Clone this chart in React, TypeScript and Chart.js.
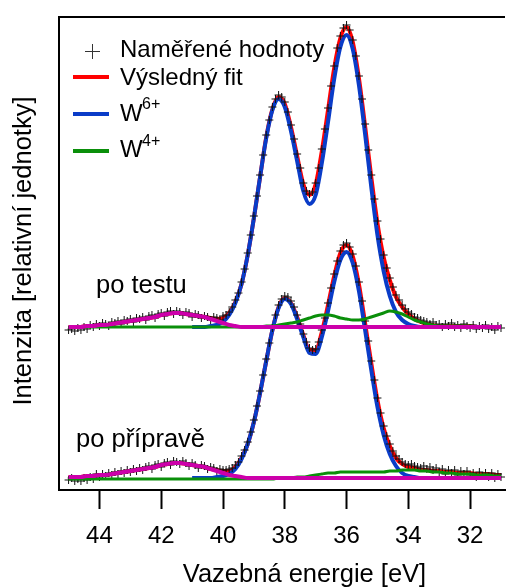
import React, { useEffect, useRef } from 'react';
import { Chart, registerables } from 'chart.js';

Chart.register(...registerables);

const FONT = '"Liberation Sans", Arial, Helvetica, sans-serif';

// x axis (binding energy, eV), reversed
const X_MIN = 30.87;
const X_MAX = 45.31;
const X_TICKS = [44, 42, 40, 38, 36, 34, 32];
// y axis (relative intensity, arbitrary units)
const Y_MIN = 0;
const Y_MAX = 474;

const X_TITLE = 'Vazebná energie [eV]';
const Y_TITLE = 'Intenzita [relativní jednotky]';
const LABEL_TOP = 'po testu';
const LABEL_BOTTOM = 'po přípravě';
const LEGEND_MEAS = 'Naměřené hodnoty';
const LEGEND_FIT = 'Výsledný fit';
const LEGEND_W6 = ['W', '6+'];
const LEGEND_W4 = ['W', '4+'];

// measured energies (0.1 eV step)
const ENERGY_MEAS = [
  45.0, 44.9, 44.8, 44.7, 44.6, 44.5, 44.4, 44.3, 44.2, 44.1,
  44.0, 43.9, 43.8, 43.7, 43.6, 43.5, 43.4, 43.3, 43.2, 43.1,
  43.0, 42.9, 42.8, 42.7, 42.6, 42.5, 42.4, 42.3, 42.2, 42.1,
  42.0, 41.9, 41.8, 41.7, 41.6, 41.5, 41.4, 41.3, 41.2, 41.1,
  41.0, 40.9, 40.8, 40.7, 40.6, 40.5, 40.4, 40.3, 40.2, 40.1,
  40.0, 39.9, 39.8, 39.7, 39.6, 39.5, 39.4, 39.3, 39.2, 39.1,
  39.0, 38.9, 38.8, 38.7, 38.6, 38.5, 38.4, 38.3, 38.2, 38.1,
  38.0, 37.9, 37.8, 37.7, 37.6, 37.5, 37.4, 37.3, 37.2, 37.1,
  37.0, 36.9, 36.8, 36.7, 36.6, 36.5, 36.4, 36.3, 36.2, 36.1,
  36.0, 35.9, 35.8, 35.7, 35.6, 35.5, 35.4, 35.3, 35.2, 35.1,
  35.0, 34.9, 34.8, 34.7, 34.6, 34.5, 34.4, 34.3, 34.2, 34.1,
  34.0, 33.9, 33.8, 33.7, 33.6, 33.5, 33.4, 33.3, 33.2, 33.1,
  33.0, 32.9, 32.8, 32.7, 32.6, 32.5, 32.4, 32.3, 32.2, 32.1,
  32.0, 31.9, 31.8, 31.7, 31.6, 31.5, 31.4, 31.3, 31.2, 31.1,
  31.0,
];

// "po testu" measured
const MEAS_TEST = [
  160, 161, 159, 162, 160, 163, 161, 165, 163, 166,
  164, 167, 166, 164, 168, 167, 169, 166, 170, 169,
  171, 168, 172, 171, 173, 170, 174, 175, 172, 176,
  177, 174, 178, 179, 176, 179, 178, 175, 178, 177,
  173, 176, 175, 172, 174, 173, 170, 173, 172, 170,
  174, 175, 178, 183, 190, 197, 208, 221, 237, 255,
  274, 294, 315, 335, 355, 370, 383, 391, 395, 393,
  388, 378, 365, 351, 336, 322, 307, 299, 296, 298,
  307, 322, 341, 361, 382, 404, 424, 442, 454, 462,
  465, 460, 450, 434, 414, 391, 366, 340, 315, 291,
  269, 251, 235, 222, 212, 203, 195, 190, 185, 181,
  178, 176, 173, 172, 170, 169, 168, 166, 168, 165,
  166, 163, 166, 164, 167, 163, 165, 162, 166, 164,
  162, 165, 161, 164, 162, 165, 161, 163, 160, 164,
  162,
];

// "po přípravě" measured
const MEAS_PREP = [
  10, 12, 9, 11, 9, 12, 10, 13, 11, 16,
  13, 16, 14, 17, 15, 18, 16, 19, 17, 20,
  18, 21, 19, 22, 20, 23, 24, 21, 25, 26,
  23, 27, 28, 25, 29, 28, 26, 29, 27, 24,
  27, 25, 22, 25, 24, 21, 23, 22, 19, 21,
  20, 20, 21, 22, 25, 28, 34, 40, 48, 58,
  70, 84, 99, 115, 131, 147, 162, 175, 185, 191,
  194, 193, 189, 183, 175, 166, 156, 148, 142, 140,
  141, 148, 160, 172, 187, 202, 216, 229, 239, 245,
  247, 243, 236, 224, 208, 189, 169, 149, 129, 110,
  92, 77, 64, 54, 46, 39, 34, 31, 28, 26,
  25, 26, 24, 23, 22, 24, 21, 23, 20, 22,
  18, 21, 16, 20, 17, 20, 14, 19, 16, 19,
  14, 17, 13, 18, 14, 17, 13, 17, 12, 16,
  13,
];

// fit energies (0.2 eV step)
const ENERGY_FIT = [
  45.0, 44.8, 44.6, 44.4, 44.2, 44.0, 43.8, 43.6, 43.4, 43.2,
  43.0, 42.8, 42.6, 42.4, 42.2, 42.0, 41.8, 41.6, 41.4, 41.2,
  41.0, 40.8, 40.6, 40.4, 40.2, 40.0, 39.8, 39.6, 39.4, 39.2,
  39.0, 38.8, 38.6, 38.4, 38.2, 38.0, 37.8, 37.6, 37.4, 37.2,
  37.0, 36.8, 36.6, 36.4, 36.2, 36.0, 35.8, 35.6, 35.4, 35.2,
  35.0, 34.8, 34.6, 34.4, 34.2, 34.0, 33.8, 33.6, 33.4, 33.2,
  33.0, 32.8, 32.6, 32.4, 32.2, 32.0, 31.8, 31.6, 31.4, 31.2,
  31.0,
];

const N = null;

// "po testu" components
const FIT_TEST = [
  163, 163, 163, 164, 164, 165, 165, 166, 167, 168,
  169, 170, 171, 172, 173, 175, 176, 177, 177, 176,
  175, 174, 173, 172, 171, 172, 177, 188, 206, 235,
  272, 313, 353, 381, 393, 386, 363, 334, 306, 295,
  306, 339, 380, 422, 452, 463, 448, 412, 364, 313,
  267, 233, 210, 193, 183, 176, 171, 168, 166, 165,
  164, 164, 164, 164, 164, 164, 163, 163, 163, 163,
  163,
];
const W6_TEST = [
  N, N, N, N, N, N, N, N, N, N,
  N, N, N, N, N, N, N, N, N, N,
  163, 163, 163, 164, 165, 168, 175, 187, 206, 235,
  272, 313, 352, 380, 391, 383, 359, 329, 299, 286,
  295, 327, 368, 411, 443, 455, 441, 405, 356, 303,
  255, 219, 194, 178, 170, 166, 164, 163, 163, 163,
  N, N, N, N, N, N, N, N, N, N,
  N,
];
const W4_TEST = [
  163, 163, 163, 163, 163, 163, 163, 163, 163, 163,
  163, 163, 163, 163, 163, 163, 163, 163, 163, 163,
  163, 163, 163, 163, 163, 163, 163, 163, 163, 163,
  163, 163, 164, 164, 165, 166, 167, 168, 170, 172,
  174, 175, 175, 174, 172, 171, 170, 170, 171, 173,
  175, 177, 179, 178, 176, 173, 170, 168, 166, 165,
  164, 164, 164, 164, 164, 164, 163, 163, 163, 163,
  163,
];
const BG_TEST = [
  163, 163, 163, 164, 164, 165, 165, 166, 167, 168,
  169, 170, 171, 172, 173, 175, 176, 177, 177, 176,
  175, 174, 173, 171, 169, 167, 165, 164, 163, 163,
  163, 163, 163, 163, 163, 163, 163, 163, 163, 163,
  163, 163, 163, 163, 163, 163, 163, 163, 163, 163,
  163, 163, 163, 163, 163, 163, 163, 163, 163, 163,
  163, 163, 163, 163, 163, 163, 163, 163, 163, 163,
  163,
];

// "po přípravě" components
const FIT_PREP = [
  13, 13, 13, 14, 14, 15, 15, 16, 17, 18,
  19, 20, 21, 22, 23, 25, 26, 27, 27, 26,
  25, 24, 23, 21, 20, 19, 19, 23, 32, 46,
  68, 97, 129, 160, 183, 192, 187, 173, 155, 140,
  140, 158, 185, 214, 237, 245, 234, 206, 167, 127,
  90, 62, 44, 32, 26, 23, 22, 20, 20, 19,
  19, 18, 18, 17, 17, 17, 16, 16, 16, 15,
  15,
];
const W6_PREP = [
  N, N, N, N, N, N, N, N, N, N,
  N, N, N, N, N, N, N, N, N, N,
  12, 12, 12, 12, 13, 14, 16, 21, 31, 46,
  68, 97, 129, 160, 182, 191, 186, 171, 153, 137,
  136, 153, 179, 208, 230, 238, 227, 199, 160, 120,
  83, 55, 36, 24, 17, 14, 13, 12, 12, 12,
  N, N, N, N, N, N, N, N, N, N,
  N,
];
const W4_PREP = [
  11, 11, 11, 11, 11, 11, 11, 11, 11, 11,
  11, 11, 11, 11, 11, 11, 11, 11, 11, 11,
  11, 11, 11, 11, 11, 11, 11, 11, 11, 11,
  11, 11, 11, 11, 12, 12, 12, 13, 13, 14,
  15, 16, 17, 17, 18, 18, 18, 18, 18, 18,
  18, 18, 19, 19, 20, 20, 20, 19, 19, 18,
  18, 17, 17, 16, 16, 16, 15, 15, 15, 14,
  14,
];
const BG_PREP = [
  13, 13, 13, 14, 14, 15, 15, 16, 17, 18,
  19, 20, 21, 22, 23, 25, 26, 27, 27, 26,
  25, 24, 23, 21, 19, 17, 15, 14, 13, 12,
  12, 12, 12, 12, 12, 12, 12, 12, 12, 12,
  12, 12, 12, 12, 12, 12, 12, 12, 12, 12,
  12, 12, 12, 12, 12, 12, 12, 12, 12, 12,
  12, 12, 12, 12, 12, 12, 12, 12, 12, 12,
  12,
];

const C_RED = '#ff0000';
const C_BLUE = '#0a3cc8';
const C_GREEN = '#0a8f0a';
const C_MAGENTA = '#cc00aa';
const C_MEAS = '#111111';

const pts = (xs: number[], ys: (number | null)[]) => xs.map((x, i) => ({ x, y: ys[i] }));

const lineDs = (label: string, ys: (number | null)[], color: string, width: number, order: number) => ({
  label,
  data: pts(ENERGY_FIT, ys),
  borderColor: color,
  borderWidth: width,
  pointRadius: 0,
  fill: false,
  cubicInterpolationMode: 'monotone' as const,
  order,
});

const measDs = (label: string, ys: number[]) => ({
  label,
  data: pts(ENERGY_MEAS, ys),
  showLine: false,
  pointStyle: 'cross' as const,
  pointRadius: 4,
  pointBorderWidth: 1,
  pointBorderColor: C_MEAS,
  pointBackgroundColor: C_MEAS,
  borderColor: C_MEAS,
  order: 2,
});

const decorPlugin = {
  id: 'decor',
  afterDraw(chart: any) {
    const ctx: CanvasRenderingContext2D = chart.ctx;
    const a = chart.chartArea;
    ctx.save();
    // frame: left and top
    ctx.strokeStyle = '#000';
    ctx.lineWidth = 2;
    ctx.beginPath();
    ctx.moveTo(a.left, a.bottom + 1);
    ctx.lineTo(a.left, a.top + 1);
    ctx.lineTo(a.right, a.top + 1);
    ctx.stroke();

    ctx.fillStyle = '#000';
    ctx.textBaseline = 'alphabetic';

    // axis titles
    ctx.font = `25.5px ${FONT}`;
    ctx.textAlign = 'center';
    ctx.fillText(X_TITLE, 304.5, 582);
    ctx.save();
    ctx.translate(31, 251);
    ctx.rotate(-Math.PI / 2);
    ctx.fillText(Y_TITLE, 0, 0);
    ctx.restore();

    // spectrum labels
    ctx.textAlign = 'left';
    ctx.font = `25.5px ${FONT}`;
    ctx.fillText(LABEL_TOP, 96, 293);
    ctx.fillText(LABEL_BOTTOM, 76, 447);

    // legend
    ctx.strokeStyle = '#333';
    ctx.lineWidth = 1;
    ctx.beginPath();
    ctx.moveTo(85, 51.5);
    ctx.lineTo(100, 51.5);
    ctx.moveTo(92.5, 44);
    ctx.lineTo(92.5, 59);
    ctx.stroke();

    const legLine = (y: number, color: string) => {
      ctx.strokeStyle = color;
      ctx.lineWidth = 4;
      ctx.beginPath();
      ctx.moveTo(73, y);
      ctx.lineTo(109, y);
      ctx.stroke();
    };
    legLine(77, C_RED);
    legLine(114, C_BLUE);
    legLine(151, C_GREEN);

    ctx.fillStyle = '#000';
    ctx.font = `24px ${FONT}`;
    ctx.fillText(LEGEND_MEAS, 120, 57);
    ctx.fillText(LEGEND_FIT, 120, 85);
    ctx.fillText(LEGEND_W6[0], 120, 121);
    ctx.fillText(LEGEND_W4[0], 120, 157);
    ctx.font = `16px ${FONT}`;
    ctx.fillText(LEGEND_W6[1], 142, 109);
    ctx.fillText(LEGEND_W4[1], 142, 146);
    ctx.restore();
  },
};

export default function App() {
  const ref = useRef<HTMLCanvasElement | null>(null);

  useEffect(() => {
    if (!ref.current) return;
    Chart.defaults.font.family = FONT;
    const chart = new Chart(ref.current, {
      type: 'line',
      data: {
        datasets: [
          lineDs('bg test', BG_TEST, C_MAGENTA, 4, 0),
          lineDs('W4 test', W4_TEST, C_GREEN, 3, 1),
          measDs('meas test', MEAS_TEST),
          lineDs('W6 test', W6_TEST, C_BLUE, 4, 3),
          lineDs('fit test', FIT_TEST, C_RED, 4, 4),
          lineDs('bg prep', BG_PREP, C_MAGENTA, 4, 0),
          lineDs('W4 prep', W4_PREP, C_GREEN, 3, 1),
          measDs('meas prep', MEAS_PREP),
          lineDs('W6 prep', W6_PREP, C_BLUE, 4, 3),
          lineDs('fit prep', FIT_PREP, C_RED, 4, 4),
        ] as any,
      },
      options: {
        animation: false,
        responsive: false,
        maintainAspectRatio: false,
        devicePixelRatio: 1,
        events: [],
        layout: { padding: { left: 59, top: 16, right: 0, bottom: 0 } },
        plugins: { legend: { display: false }, tooltip: { enabled: false } },
        scales: {
          x: {
            type: 'linear',
            reverse: true,
            min: X_MIN,
            max: X_MAX,
            afterBuildTicks: (axis: any) => {
              axis.ticks = X_TICKS.map((v) => ({ value: v }));
            },
            afterFit: (axis: any) => {
              axis.height = 97;
            },
            grid: {
              display: true,
              drawOnChartArea: false,
              drawTicks: true,
              tickLength: 19,
              tickWidth: 2,
              tickColor: '#000',
            },
            border: { display: true, color: '#000', width: 2 },
            ticks: {
              color: '#000',
              font: { family: FONT, size: 24 },
              padding: 13,
              maxRotation: 0,
              autoSkip: false,
              includeBounds: false,
              callback: (v: any) => String(v),
            },
          },
          y: { type: 'linear', display: false, min: Y_MIN, max: Y_MAX },
        },
      } as any,
      plugins: [decorPlugin],
    });
    return () => chart.destroy();
  }, []);

  return (
    <div style={{ position: 'absolute', left: 0, top: 0, width: 510, height: 587, background: '#fff' }}>
      <canvas ref={ref} width={510} height={587} style={{ display: 'block', width: 510, height: 587 }} />
    </div>
  );
}
